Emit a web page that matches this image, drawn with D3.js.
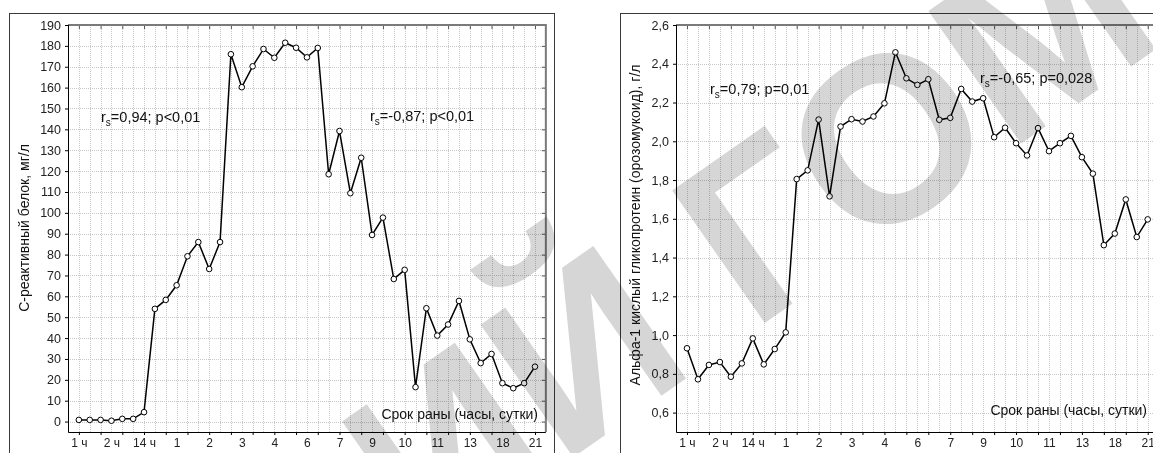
<!DOCTYPE html>
<html>
<head>
<meta charset="utf-8">
<script src="https://cdn.jsdelivr.net/npm/d3@7"></script>
<style>
  body { margin: 0; background: #fff; }
  svg { display: block; font-family: "Liberation Sans", Arial, sans-serif; }
  .grid line { stroke: #c8c8c8; stroke-dasharray: 1,1; shape-rendering: crispEdges; }
  .tick text { fill: #222; }
</style>
</head>
<body>
<svg width="1153" height="453"></svg>
<script>
// time points (x axis), one per measurement
var tickLabels = ["1 ч", "2 ч", "14 ч", "1", "2", "3", "4", "6", "7", "9", "10", "11", "13", "18", "21"];

// C-reactive protein, mg/l
var crp = [0.8, 0.8, 0.8, 0.4, 1.3, 1.3, 4.5, 54, 58.3, 65.3, 79.2, 86, 73.1, 86,
  176, 160.2, 170.2, 178.5, 174.3, 181.5, 179.1, 174.5, 179, 118.5, 139.2, 109.4,
  126.4, 89.4, 97.7, 68.3, 72.7, 16.5, 54.3, 41.2, 46.5, 57.8, 39.4, 28, 32.4,
  18.4, 16, 18.4, 26.3];

// alpha-1 acid glycoprotein, g/l
var agp = [0.932, 0.772, 0.846, 0.861, 0.785, 0.854, 0.983, 0.849, 0.928, 1.014,
  1.805, 1.85, 2.112, 1.716, 2.076, 2.114, 2.102, 2.128, 2.196, 2.459, 2.325,
  2.291, 2.32, 2.111, 2.121, 2.27, 2.205, 2.222, 2.021, 2.07, 1.99, 1.927, 2.068,
  1.949, 1.99, 2.028, 1.918, 1.833, 1.464, 1.524, 1.7, 1.506, 1.597];

var crpTicks = d3.range(0, 191, 10);
var agpTicks = [0.6, 0.8, 1.0, 1.2, 1.4, 1.6, 1.8, 2.0, 2.2, 2.4, 2.6];

var svg = d3.select("svg");

function panel(o) {
  var g = svg.append("g");
  var n = o.values.length;

  var x = d3.scaleLinear().domain([-1, n]).range([o.left, o.left + o.step * (n + 1)]);
  var y = d3.scaleLinear().domain(o.yDomain).range([432, 25]);
  var right = x(n), top = 25, bottom = 432;

  // outer frame
  g.append("rect")
    .attr("x", o.frameX + 0.5).attr("y", 13.5)
    .attr("width", o.frameW).attr("height", 600)
    .attr("fill", "none").attr("stroke", "#3a3a3a");

  // grid
  var grid = g.append("g").attr("class", "grid");
  grid.selectAll("line.v")
    .data(d3.range(0, n))
    .enter().append("line")
    .attr("x1", function (d) { return Math.round(x(d)) + 0.5; })
    .attr("x2", function (d) { return Math.round(x(d)) + 0.5; })
    .attr("y1", top).attr("y2", bottom);
  grid.selectAll("line.h")
    .data(o.yTicks)
    .enter().append("line")
    .attr("y1", function (d) { return Math.round(y(d)) + 0.5; })
    .attr("y2", function (d) { return Math.round(y(d)) + 0.5; })
    .attr("x1", o.left).attr("x2", right);

  var evenIdx = d3.range(0, n, 2);
  var labIdx = d3.range(0, n, 3);

  // bottom ticks and labels
  g.append("g")
    .attr("transform", "translate(0," + bottom + ")")
    .call(d3.axisBottom(x).tickValues(evenIdx).tickSize(3).tickSizeOuter(0).tickFormat(""))
    .call(function (s) { s.select(".domain").remove(); });
  g.append("g")
    .attr("transform", "translate(0," + bottom + ")")
    .call(d3.axisBottom(x).tickValues(labIdx).tickSize(0).tickPadding(6)
      .tickFormat(function (d, i) { return tickLabels[i]; }))
    .call(function (s) { s.select(".domain").remove(); })
    .selectAll("text").attr("font-size", 12).attr("font-family", null);

  // top ticks (inward)
  g.append("g")
    .attr("transform", "translate(0," + top + ")")
    .call(d3.axisBottom(x).tickValues(evenIdx).tickSize(4).tickSizeOuter(0).tickFormat(""))
    .call(function (s) { s.select(".domain").remove(); })
    .selectAll("line").attr("stroke", "#555");

  // left axis
  g.append("g")
    .attr("transform", "translate(" + o.left + ",0)")
    .call(d3.axisLeft(y).tickValues(o.yTicks).tickSize(3).tickPadding(4).tickFormat(o.fmt))
    .call(function (s) { s.select(".domain").remove(); })
    .selectAll("text").attr("font-size", 12.5).attr("font-family", null);

  // right ticks (inward)
  g.append("g")
    .attr("transform", "translate(" + right + ",0)")
    .call(d3.axisLeft(y).tickValues(o.yTicks).tickSize(4).tickFormat(""))
    .call(function (s) { s.select(".domain").remove(); })
    .selectAll("line").attr("stroke", "#555");

  // plot box
  g.append("path")
    .attr("d", "M" + o.left + "," + top + "H" + right + "V" + bottom)
    .attr("fill", "none").attr("stroke", "#7a7a7a").attr("stroke-width", 2);
  g.append("path")
    .attr("d", "M" + (o.left + 0.5) + "," + top + "V" + (bottom + 0.5) + "H" + right)
    .attr("fill", "none").attr("stroke", "#000");

  // series
  var line = d3.line()
    .x(function (d, i) { return x(i); })
    .y(function (d) { return y(d); });
  g.append("path")
    .datum(o.values)
    .attr("d", line)
    .attr("fill", "none").attr("stroke", "#000").attr("stroke-width", 1.5);
  g.selectAll("circle")
    .data(o.values)
    .enter().append("circle")
    .attr("cx", function (d, i) { return x(i); })
    .attr("cy", function (d) { return y(d); })
    .attr("r", 2.8)
    .attr("fill", "#fff").attr("stroke", "#000").attr("stroke-width", 1);

  // axis titles
  g.append("text")
    .attr("transform", "translate(" + o.ylabX + "," + o.ylabY + ") rotate(-90)")
    .attr("text-anchor", "middle")
    .attr("font-size", 14).attr("fill", "#111")
    .text(o.ylab);
  g.append("text")
    .attr("x", o.xlabX).attr("y", o.xlabY)
    .attr("text-anchor", "end")
    .attr("font-size", 14).attr("fill", "#111")
    .text("Срок раны (часы, сутки)");

  // correlation notes
  o.notes.forEach(function (t) {
    var tx = g.append("text")
      .attr("x", t.x).attr("y", t.y)
      .attr("font-size", 14.5).attr("fill", "#111");
    tx.append("tspan").text("r");
    tx.append("tspan").attr("font-size", 10).attr("dy", 4).text("s");
    tx.append("tspan").attr("dy", -4).text(t.text);
  });
}

var fmtComma = function (d) { return d3.format(".1f")(d).replace(".", ","); };

panel({
  values: crp, left: 68, step: 10.86, frameX: 9, frameW: 545,
  yDomain: [-5, 190], yTicks: crpTicks, fmt: d3.format("d"),
  ylab: "С-реактивный белок, мг/л", ylabX: 29, ylabY: 228,
  xlabX: 538, xlabY: 419,
  notes: [
    { x: 101, y: 122, text: "=0,94; p<0,01" },
    { x: 370, y: 121, text: "=-0,87; p<0,01" }
  ]
});

panel({
  values: agp, left: 676, step: 10.97, frameX: 620, frameW: 600,
  yDomain: [0.5, 2.6], yTicks: agpTicks, fmt: fmtComma,
  ylab: "Альфа-1 кислый гликопротеин (орозомукоид), г/л", ylabX: 640, ylabY: 225,
  xlabX: 1147, xlabY: 415,
  notes: [
    { x: 710, y: 94, text: "=0,79; p=0,01" },
    { x: 980, y: 83, text: "=-0,65; p=0,028" }
  ]
});

// watermark on top, multiply keeps lines dark
var wm = svg.append("g")
  .attr("transform", "translate(752,332) rotate(-35)")
  .style("mix-blend-mode", "multiply")
  .attr("fill", "#d6d6d6")
  .attr("font-size", 235)
  .attr("font-weight", "bold");
wm.append("text").attr("x", -65).attr("text-anchor", "end").text("РЕПОЗИТОРИЙ");
wm.append("text").attr("x", 0).text("ГОМГМУ");
</script>
</body>
</html>
